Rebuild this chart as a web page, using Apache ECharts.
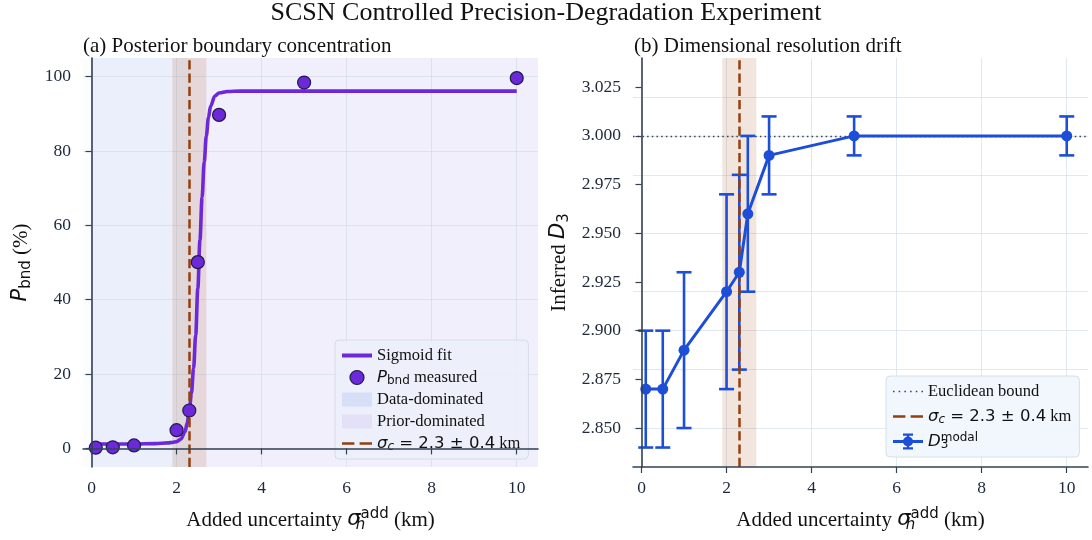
<!DOCTYPE html>
<html>
<head>
<meta charset="utf-8">
<script src="https://cdn.jsdelivr.net/npm/echarts@6/dist/echarts.min.js"></script>
<style>
  html, body { margin: 0; padding: 0; background: #ffffff; }
  #chart { width: 1092px; height: 540px; }
</style>
</head>
<body>
<div id="chart"></div>
<script>
// Added horizontal location uncertainty for each run (km)
const sigmaAdd = [0.1, 0.5, 1.0, 2.0, 2.3, 2.5, 3.0, 5.0, 10.0];
// Posterior boundary concentration per run (%)
const pBnd = [0.2, 0.3, 0.8, 4.9, 10.2, 50.1, 89.7, 98.4, 99.6];
// Sigmoid fit curve through P_bnd, sampled along x
const fitX = [0, 0.5, 1.0, 1.5, 1.8, 1.9, 2.0, 2.1, 2.2, 2.25, 2.3, 2.35, 2.4, 2.45, 2.5,
              2.55, 2.6, 2.65, 2.7, 2.75, 2.8, 2.9, 3.0, 3.2, 3.5, 4.0, 6.0, 8.0, 10.0];
const fitY = [1.2, 1.2, 1.2, 1.3, 1.5, 1.6, 1.8, 2.5, 4.5, 6.8, 10.2, 14.8, 21.5, 30.5, 43.0,
              56.0, 67.5, 77.0, 84.0, 89.0, 92.0, 94.8, 95.6, 96.0, 96.1, 96.1, 96.1, 96.1, 96.1];
// Inferred modal D3 per run and its spread
const d3Modal = [2.87, 2.87, 2.89, 2.92, 2.93, 2.96, 2.99, 3.00, 3.00];
const d3Err = [0.03, 0.03, 0.04, 0.05, 0.05, 0.04, 0.02, 0.01, 0.01];
// Critical uncertainty and its 1-sigma band (km)
const sigmaC = 2.3;
const sigmaCErr = 0.4;
// Euclidean upper bound on D3
const euclideanD = 3.0;
// Tick values
const xTicks = [0, 2, 4, 6, 8, 10];
const pTicks = [0, 20, 40, 60, 80, 100];
const dTicks = [2.85, 2.875, 2.9, 2.925, 2.95, 2.975, 3.0, 3.025];

// Axis limits
const X_MIN = -0.2, X_MAX = 10.5;

const VIOLET = '#6d28d9';
const BLUE = '#1d4ed8';
const BROWN = '#92400e';
const INK = '#1e293b';
const SPINE = '#334155';
const DOT = '#374151';
const GRID = 'rgba(203,213,225,0.55)';
const SERIF = 'Liberation Serif';
const SANS = 'DejaVu Sans';
const DASH = [9.25, 4];

const TICK_FS = 17.5;
const LABEL_FS = 21;
const LEGEND_FS = 16.5;

const chart = echarts.init(document.getElementById('chart'), null, { renderer: 'canvas' });

// rich-text styles for mathtext-like labels
function math(size) {
  const sub = Math.round(size * 0.7);
  return {
    it: { fontFamily: SANS, fontStyle: 'italic', fontSize: size },
    rm: { fontFamily: SANS, fontSize: size },
    sr: { fontFamily: SERIF, fontSize: size },
    sub: { fontFamily: SANS, fontSize: sub, verticalAlign: 'bottom', lineHeight: sub - 2 },
    subi: { fontFamily: SANS, fontStyle: 'italic', fontSize: sub, verticalAlign: 'bottom', lineHeight: sub - 2 },
    subz: { fontFamily: SANS, fontStyle: 'italic', fontSize: sub, verticalAlign: 'bottom', lineHeight: sub - 2, width: 0 },
    subzr: { fontFamily: SANS, fontSize: sub, verticalAlign: 'bottom', lineHeight: sub - 2, width: 0 },
    sup: { fontFamily: SANS, fontSize: sub, verticalAlign: 'top', lineHeight: sub - 2 }
  };
}

function xAxisOpt(gridIndex) {
  return {
    type: 'value', gridIndex, min: X_MIN, max: X_MAX, z: 10,
    name: 'Added uncertainty {it|σ}{subz|h}{sup|add}{sr| (km)}',
    nameLocation: 'middle', nameGap: 40,
    nameTextStyle: { fontFamily: SERIF, fontSize: LABEL_FS, color: '#111111', lineHeight: 26, rich: math(LABEL_FS) },
    axisLine: { show: true, lineStyle: { color: SPINE, width: 1.6 } },
    axisTick: { show: true, length: 6, lineStyle: { color: SPINE, width: 1.2 }, customValues: xTicks },
    axisLabel: { fontFamily: SERIF, fontSize: TICK_FS, color: INK, margin: 12, customValues: xTicks },
    splitLine: { show: false }
  };
}

function yAxisOpt(gridIndex, min, max, ticks, name, gap, fmt) {
  return {
    type: 'value', gridIndex, min, max, z: 10,
    name, nameLocation: 'middle', nameGap: gap, nameRotate: 90,
    nameTextStyle: { fontFamily: SERIF, fontSize: LABEL_FS, color: '#111111', lineHeight: 26, rich: math(LABEL_FS) },
    axisLine: { show: true, lineStyle: { color: SPINE, width: 1.6 } },
    axisTick: { show: true, length: 6, lineStyle: { color: SPINE, width: 1.2 }, customValues: ticks },
    axisLabel: { fontFamily: SERIF, fontSize: TICK_FS, color: INK, margin: 12, customValues: ticks, formatter: fmt },
    splitLine: { show: false }
  };
}

function gridLines(xs, ys) {
  return {
    silent: true, symbol: 'none', animation: false, z: 1.5,
    label: { show: false },
    lineStyle: { color: GRID, width: 1, type: 'solid' },
    emphasis: { disabled: true },
    data: xs.map(v => ({ xAxis: v })).concat(ys.map(v => ({ yAxis: v })))
  };
}

function sigmaLine() {
  return {
    silent: true, symbol: 'none', animation: false, z: 4,
    label: { show: false },
    lineStyle: { color: BROWN, width: 2.5, type: DASH },
    emphasis: { disabled: true },
    data: [{ xAxis: sigmaC }]
  };
}

function bandArea() {
  return {
    silent: true, animation: false, z: 1.6,
    itemStyle: { color: 'rgba(160,82,30,0.15)' },
    emphasis: { disabled: true },
    data: [[{ xAxis: sigmaC - sigmaCErr }, { xAxis: sigmaC + sigmaCErr }]]
  };
}

const legendRich = math(LEGEND_FS);
const legendLabels = {
  'Sigmoid fit': 'Sigmoid fit',
  'P_bnd measured': '{it|P}{sub|bnd} measured',
  'Data-dominated': 'Data-dominated',
  'Prior-dominated': 'Prior-dominated',
  'sigma_c': '{it|σ}{subi|c}{rm| = 2.3 ± 0.4} km',
  'Euclidean bound': 'Euclidean bound',
  'D3 modal': '{it|D}{subzr|3}{sup|modal}'
};

// legend glyphs
const solidIcon = 'path://M0 0H30V4H0Z';
const dashIcon = 'path://M0 0H12V2.6H0Z M17 0H29V2.6H17Z';
const dotIcon = 'path://M0 0H1.5V1.5H0Z M5.7 0H7.2V1.5H5.7Z M11.4 0H12.9V1.5H11.4Z M17.1 0H18.6V1.5H17.1Z M22.8 0H24.3V1.5H22.8Z M28.5 0H30V1.5H28.5Z';
const errIcon = 'path://M10 0H20V2.2H10Z M13.9 2H16.1V14H13.9Z M10 13.8H20V16H10Z M0 6.6H30V9.4H0Z ' +
  'M20 8A5 5 0 1 1 10 8A5 5 0 1 1 20 8Z';

const legendBase = {
  orient: 'vertical', itemWidth: 30, symbolKeepAspect: true,
  padding: [6, 8, 6, 7],
  borderColor: 'rgba(203,213,225,0.75)', borderWidth: 1, borderRadius: 4,
  selectedMode: false,
  textStyle: { fontFamily: SERIF, fontSize: LEGEND_FS, color: '#111111', lineHeight: 19, rich: legendRich },
  formatter: n => legendLabels[n] || n
};

const option = {
  backgroundColor: '#ffffff',
  animation: false,
  title: [
    { text: 'SCSN Controlled Precision-Degradation Experiment', left: 'center', top: 0, padding: 0,
      textStyle: { fontFamily: SERIF, fontSize: 26, fontWeight: 'normal', color: '#111111' } },
    { text: '(a) Posterior boundary concentration', left: 83, top: 36, padding: 0,
      textStyle: { fontFamily: SERIF, fontSize: 21, fontWeight: 'normal', color: '#111111' } },
    { text: '(b) Dimensional resolution drift', left: 634, top: 36, padding: 0,
      textStyle: { fontFamily: SERIF, fontSize: 21, fontWeight: 'normal', color: '#111111' } }
  ],
  grid: [
    { left: 83, top: 58, width: 455, height: 409, show: true, backgroundColor: '#fbfcfe', borderWidth: 0 },
    { left: 633, top: 58, width: 455, height: 409, show: true, backgroundColor: '#ffffff', borderWidth: 0 }
  ],
  legend: [
    Object.assign({}, legendBase, {
      left: 335, top: 340, itemHeight: 14, itemGap: 3,
      backgroundColor: 'rgba(236,239,250,0.9)',
      data: [
        { name: 'Sigmoid fit', icon: solidIcon, itemStyle: { color: VIOLET, borderWidth: 0 } },
        { name: 'P_bnd measured', icon: 'circle', itemStyle: { color: VIOLET, borderColor: '#1e1b4b', borderWidth: 1.2 } },
        { name: 'Data-dominated', icon: 'rect', itemStyle: { color: 'rgba(29,78,216,0.10)', borderWidth: 0 } },
        { name: 'Prior-dominated', icon: 'rect', itemStyle: { color: 'rgba(109,40,217,0.08)', borderWidth: 0 } },
        { name: 'sigma_c', icon: dashIcon, itemStyle: { color: BROWN, borderWidth: 0 } }
      ]
    }),
    Object.assign({}, legendBase, {
      left: 886, top: 376, itemHeight: 16, itemGap: 6,
      backgroundColor: 'rgba(240,246,253,0.92)',
      data: [
        { name: 'Euclidean bound', icon: dotIcon, itemStyle: { color: DOT, borderWidth: 0 } },
        { name: 'sigma_c', icon: dashIcon, itemStyle: { color: BROWN, borderWidth: 0 } },
        { name: 'D3 modal', icon: errIcon, itemStyle: { color: BLUE, borderWidth: 0 } }
      ]
    })
  ],
  xAxis: [xAxisOpt(0), xAxisOpt(1)],
  yAxis: [
    yAxisOpt(0, -5, 105, pTicks, '{it|P}{sub|bnd}{sr| (%)}', 49),
    yAxisOpt(1, 2.83, 3.04, dTicks, 'Inferred {it|D}{sub|3}', 61, v => v.toFixed(3))
  ],
  series: [
    // ---- panel (a) ----
    {
      name: 'Data-dominated', type: 'line', xAxisIndex: 0, yAxisIndex: 0, data: [], symbol: 'none',
      itemStyle: { color: 'rgba(29,78,216,0.10)' },
      markArea: {
        silent: true, animation: false, z: 1,
        itemStyle: { color: 'rgba(29,78,216,0.075)' },
        data: [[{ xAxis: 0 }, { xAxis: sigmaC }]]
      }
    },
    {
      name: 'Prior-dominated', type: 'line', xAxisIndex: 0, yAxisIndex: 0, data: [], symbol: 'none',
      itemStyle: { color: 'rgba(109,40,217,0.08)' },
      markArea: {
        silent: true, animation: false, z: 1,
        itemStyle: { color: 'rgba(109,40,217,0.06)' },
        data: [[{ xAxis: sigmaC }, { xAxis: X_MAX }]]
      }
    },
    {
      name: 'gridA', type: 'line', xAxisIndex: 0, yAxisIndex: 0, data: [], symbol: 'none',
      markLine: gridLines(xTicks, pTicks), markArea: bandArea()
    },
    {
      name: 'Sigmoid fit', type: 'line', xAxisIndex: 0, yAxisIndex: 0, z: 3,
      data: fitX.map((x, i) => [x, fitY[i]]),
      showSymbol: false, symbol: 'none', smooth: 0.35, smoothMonotone: 'x',
      lineStyle: { color: VIOLET, width: 3.6 }, itemStyle: { color: VIOLET }
    },
    {
      name: 'sigma_c', type: 'line', xAxisIndex: 0, yAxisIndex: 0, data: [], symbol: 'none',
      lineStyle: { color: BROWN, width: 2.5, type: DASH }, itemStyle: { color: BROWN },
      markLine: sigmaLine()
    },
    {
      name: 'P_bnd measured', type: 'scatter', xAxisIndex: 0, yAxisIndex: 0, z: 5,
      data: sigmaAdd.map((x, i) => [x, pBnd[i]]),
      symbol: 'circle', symbolSize: 13,
      itemStyle: { color: VIOLET, borderColor: '#1e1b4b', borderWidth: 1.2, opacity: 1 }
    },
    // ---- panel (b) ----
    {
      name: 'gridB', type: 'line', xAxisIndex: 1, yAxisIndex: 1, data: [], symbol: 'none',
      markLine: gridLines(xTicks, dTicks), markArea: bandArea()
    },
    {
      name: 'Euclidean bound', type: 'line', xAxisIndex: 1, yAxisIndex: 1, data: [], symbol: 'none',
      lineStyle: { color: DOT, width: 1.3, type: [1.5, 3] }, itemStyle: { color: DOT },
      markLine: {
        silent: true, symbol: 'none', animation: false, z: 2,
        label: { show: false }, emphasis: { disabled: true },
        lineStyle: { color: DOT, width: 1.4, type: [1.5, 3.2] },
        data: [{ yAxis: euclideanD }]
      }
    },
    {
      name: 'D3 spread', type: 'custom', xAxisIndex: 1, yAxisIndex: 1, z: 3, silent: true,
      data: sigmaAdd.map((x, i) => [x, d3Modal[i] - d3Err[i], d3Modal[i] + d3Err[i]]),
      encode: { x: 0, y: [1, 2] },
      renderItem: (params, api) => {
        const x = api.value(0);
        const lo = api.coord([x, api.value(1)]);
        const hi = api.coord([x, api.value(2)]);
        const cap = 7.5;
        const style = { stroke: BLUE, lineWidth: 2.6, fill: null };
        return {
          type: 'group',
          children: [
            { type: 'line', shape: { x1: lo[0], y1: lo[1], x2: hi[0], y2: hi[1] }, style },
            { type: 'line', shape: { x1: lo[0] - cap, y1: lo[1], x2: lo[0] + cap, y2: lo[1] }, style },
            { type: 'line', shape: { x1: hi[0] - cap, y1: hi[1], x2: hi[0] + cap, y2: hi[1] }, style }
          ]
        };
      }
    },
    {
      name: 'sigma_c', type: 'line', xAxisIndex: 1, yAxisIndex: 1, data: [], symbol: 'none',
      lineStyle: { color: BROWN, width: 2.5, type: DASH }, itemStyle: { color: BROWN },
      markLine: sigmaLine()
    },
    {
      name: 'D3 modal', type: 'line', xAxisIndex: 1, yAxisIndex: 1, z: 5,
      data: sigmaAdd.map((x, i) => [x, d3Modal[i]]),
      symbol: 'circle', symbolSize: 11, showSymbol: true,
      lineStyle: { color: BLUE, width: 3 }, itemStyle: { color: BLUE }
    }
  ]
};

chart.setOption(option);
</script>
</body>
</html>
